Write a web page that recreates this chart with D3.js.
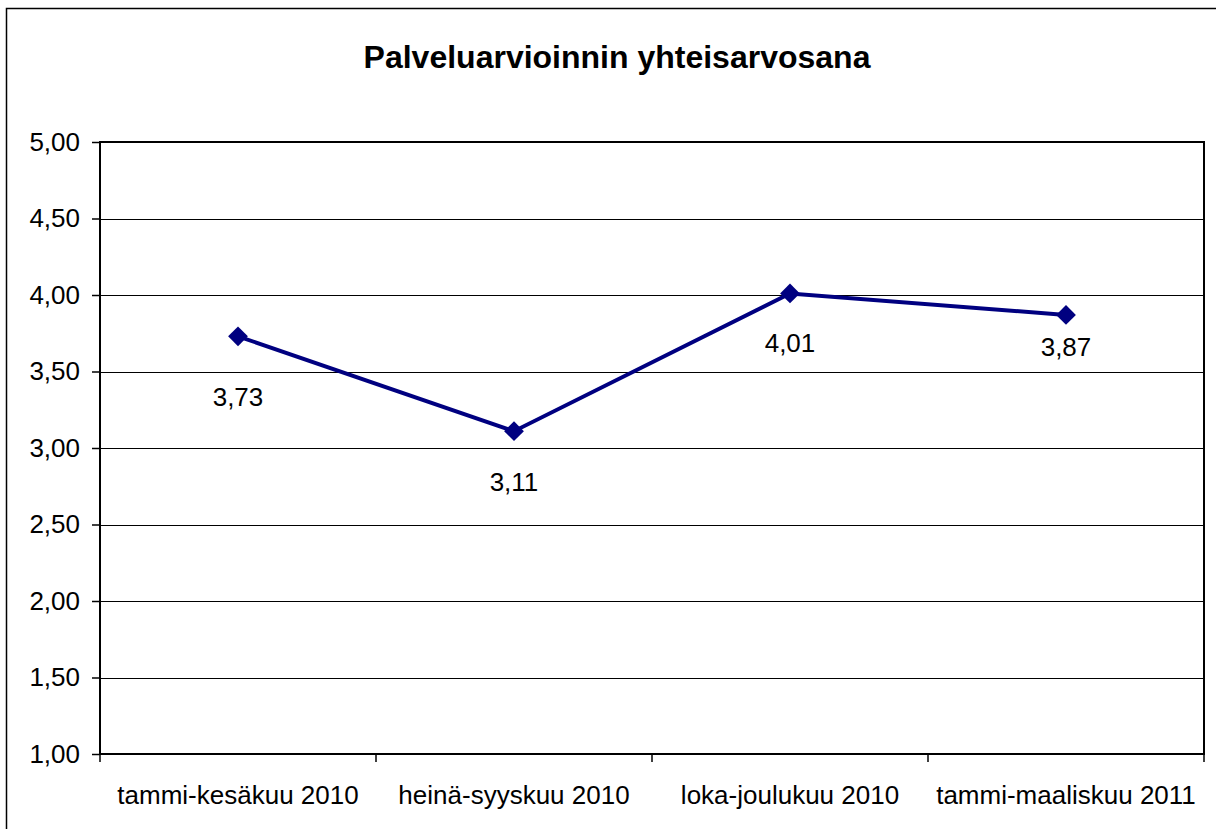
<!DOCTYPE html>
<html>
<head>
<meta charset="utf-8">
<script src="https://cdn.jsdelivr.net/npm/d3@7"></script>
<style>
  body { margin: 0; background: #fff; }
  text { font-family: "Liberation Sans", Arial, sans-serif; }
</style>
</head>
<body>
<svg id="chart"></svg>
<script>
const width = 1216;
const height = 829;

const categories = ["tammi-kesäkuu 2010", "heinä-syyskuu 2010", "loka-joulukuu 2010", "tammi-maaliskuu 2011"];
const values = [3.73, 3.11, 4.01, 3.87];
const yTicks = [1, 1.5, 2, 2.5, 3, 3.5, 4, 4.5, 5];

// label baseline distance below each point (labels were hand-placed in the original)
const labelDy = [70, 60, 59, 41];

const margin = {top: 142, right: 12, bottom: 75, left: 100};

const svg = d3.select("#chart")
  .attr("width", width)
  .attr("height", height);

// outer chart border (right/bottom fall outside the picture)
svg.append("rect")
  .attr("x", 6.5).attr("y", 8.5)
  .attr("width", 1240).attr("height", 840)
  .attr("fill", "none")
  .attr("stroke", "#000")
  .attr("stroke-width", 1.5);

svg.append("text")
  .attr("x", 617).attr("y", 68)
  .attr("text-anchor", "middle")
  .attr("font-size", "32px")
  .attr("font-weight", "bold")
  .text("Palveluarvioinnin yhteisarvosana");

const x = d3.scaleBand()
  .domain(categories)
  .range([margin.left, width - margin.right]);

const y = d3.scaleLinear()
  .domain([1, 5])
  .range([height - margin.bottom, margin.top]);

// gridlines
svg.append("g")
  .selectAll("line")
  .data(yTicks.slice(1))
  .join("line")
  .attr("x1", margin.left).attr("x2", width - margin.right)
  .attr("y1", d => Math.round(y(d)) + 0.5).attr("y2", d => Math.round(y(d)) + 0.5)
  .attr("stroke", "#000")
  .attr("stroke-width", 1);

// plot border
svg.append("rect")
  .attr("x", margin.left).attr("y", margin.top)
  .attr("width", width - margin.right - margin.left)
  .attr("height", height - margin.bottom - margin.top)
  .attr("fill", "none")
  .attr("stroke", "#000")
  .attr("stroke-width", 2);

// y axis
const yAxis = svg.append("g")
  .attr("transform", `translate(${margin.left},0)`)
  .call(d3.axisLeft(y).tickValues(yTicks).tickSize(8).tickPadding(12)
    .tickFormat(d => d3.format(".2f")(d).replace(".", ",")));
yAxis.select(".domain").remove();
yAxis.selectAll("text").attr("font-size", "26px").attr("fill", "#000").attr("font-family", "Liberation Sans, Arial, sans-serif");
yAxis.selectAll("line").attr("stroke-width", 1.5);

// x axis ticks at category boundaries
const bounds = categories.map(c => x(c)).concat([x(categories[categories.length - 1]) + x.bandwidth()]);
svg.append("g")
  .selectAll("line")
  .data(bounds)
  .join("line")
  .attr("x1", d => d).attr("x2", d => d)
  .attr("y1", height - margin.bottom).attr("y2", height - margin.bottom + 8)
  .attr("stroke", "#000")
  .attr("stroke-width", 1.5);

svg.append("g")
  .selectAll("text")
  .data(categories)
  .join("text")
  .attr("x", d => x(d) + x.bandwidth() / 2)
  .attr("y", height - margin.bottom + 50)
  .attr("text-anchor", "middle")
  .attr("font-size", "26px")
  .text(d => d);

// line
const line = d3.line()
  .x((d, i) => x(categories[i]) + x.bandwidth() / 2)
  .y(d => y(d));

svg.append("path")
  .datum(values)
  .attr("d", line)
  .attr("fill", "none")
  .attr("stroke", "#000080")
  .attr("stroke-width", 4);

svg.append("g")
  .selectAll("path")
  .data(values)
  .join("path")
  .attr("transform", (d, i) => `translate(${x(categories[i]) + x.bandwidth() / 2},${y(d)})`)
  .attr("d", d3.symbol(d3.symbolDiamond2, 250))
  .attr("fill", "#000080");

svg.append("g")
  .selectAll("text")
  .data(values)
  .join("text")
  .attr("x", (d, i) => x(categories[i]) + x.bandwidth() / 2)
  .attr("y", (d, i) => y(d) + labelDy[i])
  .attr("text-anchor", "middle")
  .attr("font-size", "26px")
  .text(d => d3.format(".2f")(d).replace(".", ","));
</script>
</body>
</html>
